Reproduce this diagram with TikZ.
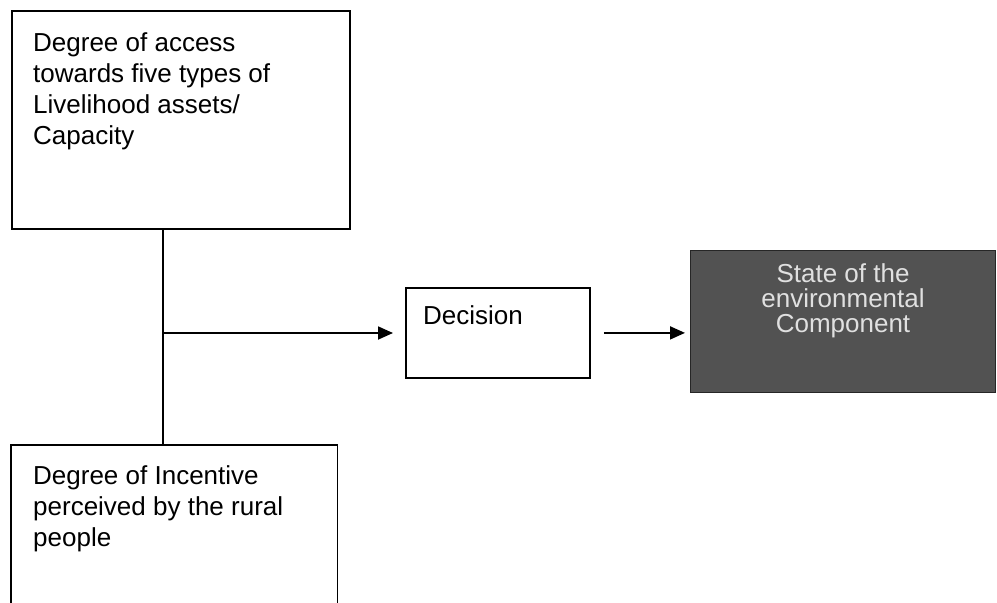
\documentclass[tikz,border=0pt]{standalone}
\usepackage{fontspec}
\setmainfont{Liberation Sans}
\usetikzlibrary{arrows.meta}
\begin{document}
\begin{tikzpicture}[x=1pt,y=-1pt,
  box/.style={draw=black, line width=1.8pt, inner sep=0pt, anchor=north west},
  txt/.style={font=\fontsize{26}{31}\selectfont, align=left, inner sep=0pt, anchor=base west},
  link/.style={line width=1.8pt},
  arr/.style={link, -{Triangle[length=15pt,width=13pt]}}]
\useasboundingbox (0,0) rectangle (997,603);
\fill[white] (0,0) rectangle (997,603);
\clip (0,0) rectangle (997,603);
% boxes
\node[box, minimum width=338pt, minimum height=218pt] (access) at (11,10) {};
\node[txt] (accesstext) at (33,144) {Degree of access\\towards five types of\\Livelihood assets/\\Capacity};
\node[inner sep=0pt, anchor=north west, minimum width=326pt, minimum height=165pt] (incentive) at (11,445) {};
\draw[link] (incentive.south west) -- (incentive.north west) -- (incentive.north east) -- (incentive.south east);
\node[txt] (incentivetext) at (33,546) {Degree of Incentive\\perceived by the rural\\people};
\node[box, minimum width=184pt, minimum height=90pt] (decision) at (405,287) {};
\node[txt] (decisiontext) at (423,324) {Decision};
\node[box, draw=black!85, line width=1pt, fill=black!68, minimum width=305pt, minimum height=142pt] (state) at (690,250) {};
\node[txt, align=center, anchor=base, text=white!88!black, font=\fontsize{26}{25}\selectfont] (statetext) at (843,332) {State of the\\environmental\\Component};
% connectors
\coordinate (split) at (163,333);
\draw[link] (access.south -| split) -- (incentive.north -| split);
\draw[arr, shorten >=12pt] (split) -- (split -| decision.west);
\draw[arr, shorten <=13pt, shorten >=5pt] (decision.east) -- (decision.east -| state.west);
\end{tikzpicture}
\end{document}
